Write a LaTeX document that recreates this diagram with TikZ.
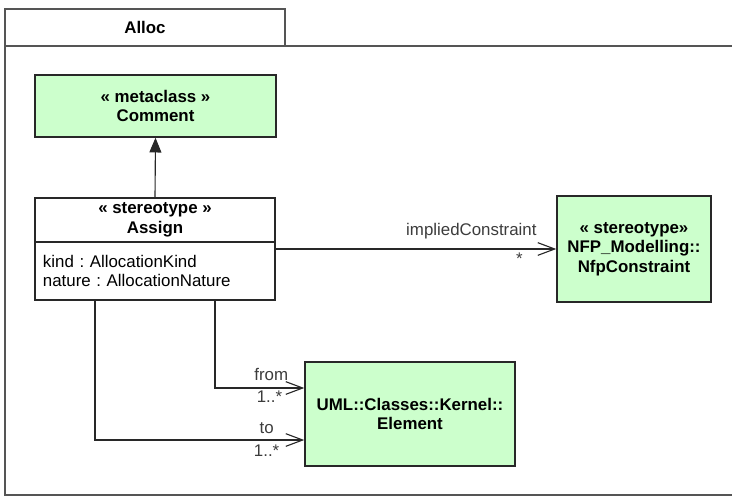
\documentclass[tikz,border=0pt]{standalone}
\usepackage{fontspec}
\setmainfont{Liberation Sans}
\usetikzlibrary{
  arrows.meta,
  positioning
}
\definecolor{umlgreen}{RGB}{204,255,204}
\definecolor{umlline}{RGB}{40,40,40}
\definecolor{framegray}{RGB}{85,85,85}
\definecolor{labelgray}{RGB}{60,60,60}
\frenchspacing

\begin{document}
\begin{tikzpicture}[x=0.025cm, y=-0.025cm,
  font=\fontsize{12}{14}\selectfont,
  classbox/.style={draw=umlline, line width=1pt, fill=umlgreen, align=center, inner sep=2pt, font=\fontsize{12}{14}\selectfont\bfseries},
  stereobox/.style={draw=umlline, line width=1pt, fill=white, outer sep=0pt, minimum width=6cm},
  assoc/.style={-{Straight Barb[length=12pt,width=9pt]}, line width=0.8pt, umlline},
  ext/.style={-{Triangle[length=10.5pt,width=8.5pt]}, line width=0.8pt, umlline},
  role/.style={text=labelgray, inner sep=1pt}]
\useasboundingbox (0,0) rectangle (732,496);

% package frame
\node[draw=framegray, line width=1.2pt, minimum width=7cm, minimum height=0.925cm, font=\fontsize{12}{14}\selectfont\bfseries] (tab) at (145,27.5) {Alloc};
\draw[framegray, line width=1.2pt] (732,46) -- (5,46) -- (5,495) -- (732,495);

% classes
\node[classbox, minimum width=6.025cm, minimum height=1.55cm] (comment) at (155.5,106) {« metaclass »\\Comment};
\node[stereobox, minimum height=1.1cm, align=center, font=\fontsize{12}{14}\selectfont\bfseries] (assignhead) at (155,220) {« stereotype »\\Assign};
\node[stereobox, below=0pt of assignhead, minimum height=1.45cm, inner xsep=0.2cm, text width=5.6cm, align=left] (assignattr) {kind : AllocationKind\\nature : AllocationNature};
\node[classbox, minimum width=3.85cm, minimum height=2.65cm] (nfp) at (634,249) {« stereotype»\\NFP\_Modelling::\\NfpConstraint};
\node[classbox, minimum width=5.25cm, minimum height=2.6cm] (element) at (410,414) {UML::Classes::Kernel::\\Element};

% bends
\coordinate (fromturn) at (215,388);
\coordinate (toturn) at (95,440);

\draw[ext] (assignhead.north) -- (comment.south);
\draw[assoc] (assignattr.east |- nfp.west) -- (nfp.west);
\node[role, above left=0.2cm and 0.45cm of nfp.west] (implied) {impliedConstraint};
\node[role, below left=0.05cm and 0.8cm of nfp.west] (impliedmult) {*};

\draw[assoc] (assignattr.south -| fromturn) -- (fromturn) -- (element.west |- fromturn)
  node[role, above=4pt, pos=0.63] (fromrole) {from}
  node[role, below=1pt, pos=0.61] (frommult) {1..*};
\draw[assoc] (assignattr.south -| toturn) -- (toturn) -- (element.west |- toturn)
  node[role, above=3pt, pos=0.82] (torole) {to}
  node[role, below=2pt, pos=0.82] (tomult) {1..*};
\end{tikzpicture}
\end{document}
